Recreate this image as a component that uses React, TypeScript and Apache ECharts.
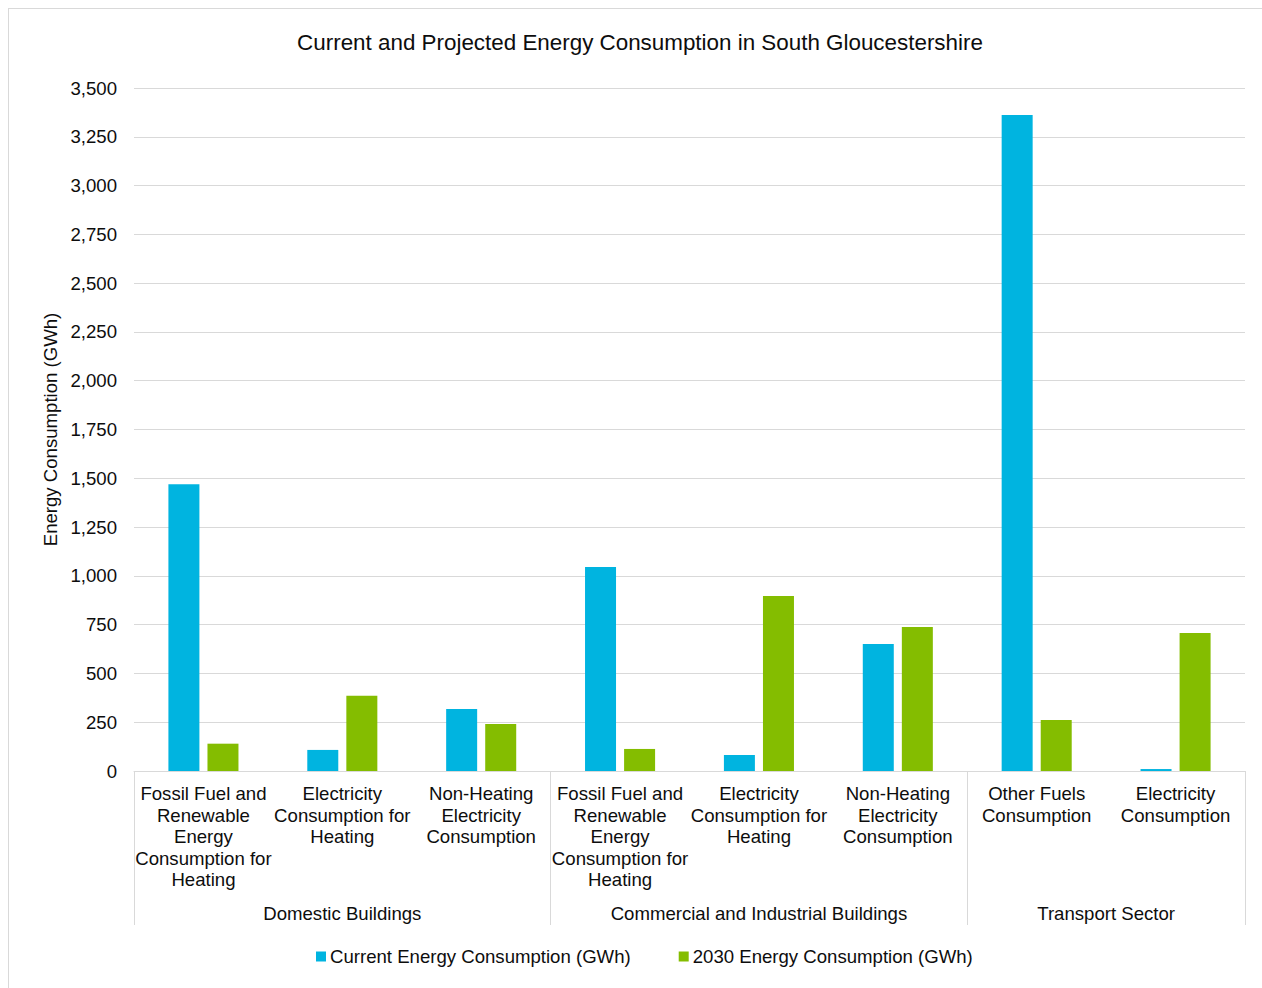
import React, { useEffect, useRef } from "react";
import * as echarts from "echarts";

const categories = [
  "Fossil Fuel and\nRenewable\nEnergy\nConsumption for\nHeating",
  "Electricity\nConsumption for\nHeating",
  "Non-Heating\nElectricity\nConsumption",
  "Fossil Fuel and\nRenewable\nEnergy\nConsumption for\nHeating",
  "Electricity\nConsumption for\nHeating",
  "Non-Heating\nElectricity\nConsumption",
  "Other Fuels\nConsumption",
  "Electricity\nConsumption",
];

const groupNames = ["Domestic Buildings", "Commercial and Industrial Buildings", "Transport Sector"];
const groupSizes = [3, 3, 2];

const currentValues = [1470, 108, 318, 1045, 82, 651, 3362, 10];
const projectedValues = [140, 385, 241, 113, 897, 738, 261, 707];

const seriesNames = ["Current Energy Consumption (GWh)", "2030 Energy Consumption (GWh)"];
const yTicks = { min: 0, max: 3500, interval: 250 };

const FONT = '"Liberation Sans", Arial, sans-serif';
const TEXT = "#0d0d0d";
const GRID = "#d9d9d9";

export default function App() {
  const ref = useRef<HTMLDivElement>(null);

  useEffect(() => {
    if (!ref.current) return;
    const chart = echarts.init(ref.current, undefined, { renderer: "svg" });

    const boundaries: number[] = [0];
    const centers: number[] = [];
    groupSizes.forEach((s) => {
      const start = boundaries[boundaries.length - 1];
      centers.push(start + s / 2);
      boundaries.push(start + s);
    });

    chart.setOption({
      animation: false,
      textStyle: { fontFamily: FONT, color: TEXT },
      title: {
        text: "Current and Projected Energy Consumption in South Gloucestershire",
        left: "center",
        top: 22,
        padding: 0,
        textStyle: { fontFamily: FONT, fontSize: 22.4, fontWeight: "normal", color: TEXT },
      },
      legend: {
        top: 938,
        left: 307,
        padding: 0,
        itemWidth: 10,
        itemHeight: 10,
        itemGap: 48,
        icon: "rect",
        textStyle: { fontFamily: FONT, fontSize: 18.6, color: TEXT, padding: [0, 0, 0, -1] },
        data: seriesNames,
      },
      grid: { left: 125, right: 26, top: 79, bottom: 228, containLabel: false },
      xAxis: [
        {
          type: "category",
          data: categories,
          axisTick: { show: false },
          axisLine: { show: true, lineStyle: { color: GRID, width: 1 } },
          axisLabel: {
            interval: 0,
            margin: 12,
            fontFamily: FONT,
            fontSize: 18.6,
            lineHeight: 21.5,
            color: TEXT,
            align: "center",
          },
        },
        {
          type: "value",
          position: "bottom",
          min: 0,
          max: boundaries[boundaries.length - 1],
          axisLine: { show: false },
          splitLine: { show: false },
          axisTick: {
            show: true,
            inside: false,
            length: 154,
            customValues: boundaries,
            lineStyle: { color: GRID, width: 1 },
          },
          axisLabel: {
            show: true,
            customValues: centers,
            margin: 133,
            fontFamily: FONT,
            fontSize: 18.6,
            color: TEXT,
            formatter: (v: number) => {
              const i = centers.findIndex((c) => Math.abs(c - v) < 1e-6);
              return i >= 0 ? groupNames[i] : "";
            },
          },
        },
      ],
      yAxis: {
        type: "value",
        min: yTicks.min,
        max: yTicks.max,
        interval: yTicks.interval,
        name: "Energy Consumption (GWh)",
        nameLocation: "middle",
        nameGap: 70,
        nameRotate: 90,
        nameTextStyle: { fontFamily: FONT, fontSize: 18.6, color: TEXT },
        axisLine: { show: false },
        axisTick: { show: false },
        splitLine: { lineStyle: { color: GRID, width: 1 } },
        axisLabel: {
          margin: 17,
          fontFamily: FONT,
          fontSize: 18.6,
          color: TEXT,
          formatter: (v: number) => v.toLocaleString("en-US"),
        },
      },
      series: [
        {
          name: seriesNames[0],
          type: "bar",
          xAxisIndex: 0,
          data: currentValues,
          barWidth: 31,
          barGap: "26%",
          itemStyle: { color: "#00B4E0" },
        },
        {
          name: seriesNames[1],
          type: "bar",
          xAxisIndex: 0,
          data: projectedValues,
          barWidth: 31,
          barGap: "26%",
          itemStyle: { color: "#84BD00" },
        },
      ],
    });

    return () => chart.dispose();
  }, []);

  return (
    <div
      style={{
        position: "fixed",
        left: 8,
        top: 8,
        width: 1270,
        height: 1000,
        border: "1px solid #d9d9d9",
        background: "#fff",
      }}
    >
      <div ref={ref} style={{ width: 1262, height: 990 }} />
    </div>
  );
}
